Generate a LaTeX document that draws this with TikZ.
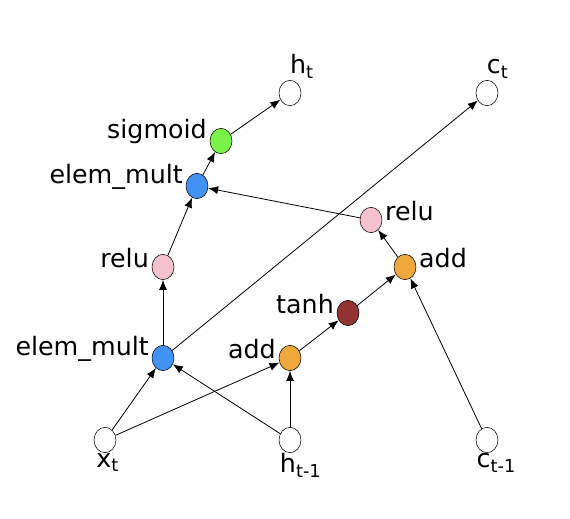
\documentclass[tikz,border=0pt]{standalone}
\usepackage{fontspec}
\setmainfont{DejaVu Sans}
\usetikzlibrary{arrows.meta, shapes.geometric, positioning}
\definecolor{multblue}{RGB}{66,146,244}
\definecolor{addorange}{RGB}{240,168,60}
\definecolor{tanhred}{RGB}{148,52,50}
\definecolor{relupink}{RGB}{244,194,206}
\definecolor{siggreen}{RGB}{122,242,74}

\begin{document}
\begin{tikzpicture}[
      x=0.75pt, y=-0.75pt,
      op/.style={draw, ellipse, minimum width=16.5pt, minimum height=19pt, inner sep=0pt, fill=#1},
      arr/.style={-{Latex[length=7.5pt, width=6pt]}, line width=0.6pt},
      lab/.style={font=\fontsize{19}{22}\selectfont, inner sep=2pt},
      lft/.style={label={[lab, yshift=7pt]left:#1}},
      rgt/.style={label={[lab, yshift=7pt]right:#1}}
    ]
      \useasboundingbox (0,0) rectangle (570,518);

% Inputs
      \node[op=white] (xt) at (105,440) {};
      \node[op=white] (hprev) at (290,440) {};
      \node[op=white] (cprev) at (487,440) {};
      \node[lab, below=-2pt of xt.south, xshift=2pt] {x\textsubscript{t}};
      \node[lab, below=-2pt of hprev.south, xshift=8pt] {h\textsubscript{t-1}};
      \node[lab, below=-2pt of cprev.south, xshift=7pt] {c\textsubscript{t-1}};

% Operations
      \node[op=multblue, lft=elem\_mult] (mult1) at (163,358) {};
      \node[op=addorange, lft=add] (add1) at (290,358) {};
      \node[op=tanhred, lft=tanh] (tanh) at (348,313) {};
      \node[op=addorange, rgt=add] (add2) at (405,267) {};
      \node[op=relupink, rgt=relu] (relu2) at (371,220) {};
      \node[op=relupink, lft=relu] (relu1) at (163,267) {};
      \node[op=multblue, lft=elem\_mult] (mult2) at (197,186) {};
      \node[op=siggreen, lft=sigmoid] (sig) at (221,141) {};

% Outputs
      \node[op=white] (ht) at (290,93) {};
      \node[op=white] (ct) at (487,93) {};
      \node[lab, above=-1pt of ht.north, xshift=9pt] {h\textsubscript{t}};
      \node[lab, above=-1pt of ct.north, xshift=8pt] {c\textsubscript{t}};

% Arrows
      \draw[arr] (xt) -- (mult1);
      \draw[arr] (xt) -- (add1);
      \draw[arr] (hprev) -- (mult1);
      \draw[arr] (hprev) -- (add1);
      \draw[arr] (add1) -- (tanh);
      \draw[arr] (tanh) -- (add2);
      \draw[arr] (cprev) -- (add2);
      \draw[arr] (add2) -- (relu2);
      \draw[arr] (relu2) -- (mult2);
      \draw[arr] (mult1) -- (relu1);
      \draw[arr] (relu1) -- (mult2);
      \draw[arr] (mult2) -- (sig);
      \draw[arr] (sig) -- (ht);
      \draw[arr] (mult1) -- (ct);
    \end{tikzpicture}
\end{document}
